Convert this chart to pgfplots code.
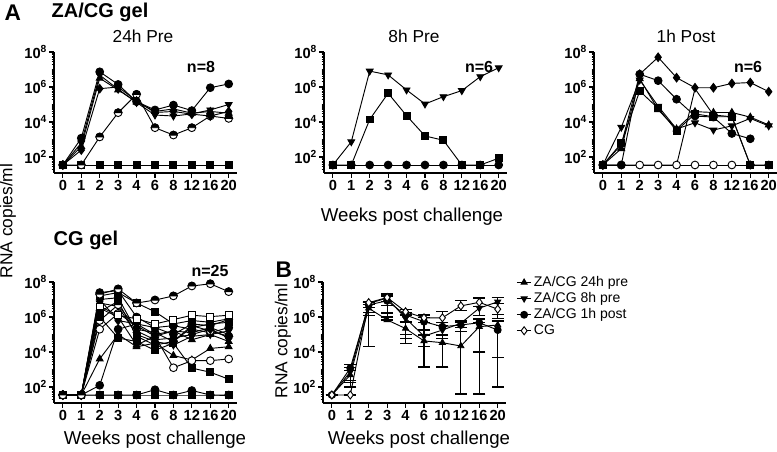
\documentclass[border=0pt]{standalone}
\usepackage{fontspec}
\setmainfont{Liberation Sans}
\usepackage{pgfplots}
\pgfplotsset{compat=1.18}
\usetikzlibrary{plotmarks}

% circle with the upper half black, lower half white
\pgfdeclareplotmark{tophalf}{%
  \pgfpathcircle{\pgfpointorigin}{\pgfplotmarksize}%
  \pgfsetfillcolor{white}\pgfusepathqfillstroke
  \pgfpathmoveto{\pgfqpoint{\pgfplotmarksize}{0pt}}%
  \pgfpatharc{0}{180}{\pgfplotmarksize}%
  \pgfpathclose
  \pgfsetfillcolor{black}\pgfusepathqfillstroke
}

% one px of the reference = 0.75pt
\pgfplotsset{
  every axis/.append style={
    scale only axis, width=137.25pt, height=90.75pt,
    anchor=south west,
    ymode=log, ymin=12.2, ymax=1e8,
    xmin=-0.48, xmax=9.45,
    axis lines=left, axis line style={-, line width=1.3pt},
    xtick={0,...,9},
    ytick={1e2,1e4,1e6,1e8},
    yticklabels={10\textsuperscript{2},10\textsuperscript{4},10\textsuperscript{6},10\textsuperscript{8}},
    minor ytick={2e1,3e1,4e1,5e1,6e1,7e1,8e1,9e1,
      2e2,3e2,4e2,5e2,6e2,7e2,8e2,9e2,1e3,2e3,3e3,4e3,5e3,6e3,7e3,8e3,9e3,
      2e4,3e4,4e4,5e4,6e4,7e4,8e4,9e4,1e5,2e5,3e5,4e5,5e5,6e5,7e5,8e5,9e5,
      2e6,3e6,4e6,5e6,6e6,7e6,8e6,9e6,1e7,2e7,3e7,4e7,5e7,6e7,7e7,8e7,9e7},
    tick align=outside,
    major tick length=3.5pt, minor tick length=1.8pt,
    tick style={black, line width=0.8pt},
    minor tick style={line width=0.5pt},
    tick label style={font=\fontsize{11}{12}\selectfont\bfseries},
    xticklabel style={inner sep=1pt, yshift=-1pt},
    yticklabel style={inner sep=1.5pt},
    clip=false,
  },
  error bars/eb/.style={error bar style={line width=0.9pt},
    error mark options={rotate=90, mark size=4.5pt, line width=0.9pt}},
}
\tikzset{
  pl/.style={black, line width=0.7pt, mark size=2.9pt},
  mktdown/.style={pl, mark=triangle*, mark options={rotate=180}},
  mktup/.style={pl, mark=triangle*},
  mkdot/.style={pl, mark=*},
  mkodot/.style={pl, mark=*, mark options={fill=white}},
  mksq/.style={pl, mark=square*, mark size=2.6pt},
  mkosq/.style={pl, mark=square*, mark size=2.6pt, mark options={fill=white}},
  mkdia/.style={pl, mark=diamond*, mark size=3.2pt},
  mkodia/.style={pl, mark=diamond*, mark size=3.2pt, mark options={fill=white}},
  mkhalf/.style={pl, mark=tophalf},
}

\begin{document}
\begin{tikzpicture}
\useasboundingbox (0,0) rectangle (582.75pt,-339pt);

% 24h Pre
\begin{axis}[at={(40.5pt,-129.75pt)}, xticklabels={0,1,2,3,4,6,8,12,16,20}]
\addplot[mksq] coordinates {(0,35)(1,35)(2,35)(3,35)(4,35)(5,35)(6,35)(7,35)(8,35)(9,35)};
\addplot[mkhalf] coordinates {(0,35)(1,35)(2,1400)(3,3.4e4)(4,3.8e5)(5,4.7e3)(6,1.8e3)(7,4.7e3)(8,2.2e4)(9,1.6e4)};
\addplot[mkdia] coordinates {(0,35)(1,250)(2,8e5)(3,1e6)(4,1.6e5)(5,3.5e4)(6,4e4)(7,2.8e4)(8,2.2e4)(9,4e4)};
\addplot[mktup] coordinates {(0,35)(1,400)(2,3.2e6)(3,6.8e5)(4,1.4e5)(5,4e4)(6,5.6e4)(7,3.2e4)(8,4e4)(9,3.2e4)};
\addplot[mktdown] coordinates {(0,35)(1,630)(2,4.8e6)(3,7.4e5)(4,1.3e5)(5,2.5e4)(6,2.2e4)(7,2.9e4)(8,4.9e4)(9,1e5)};
\addplot[mkdot] coordinates {(0,35)(1,1200)(2,7.4e6)(3,1.4e6)(4,1.45e5)(5,4.9e4)(6,9.3e4)(7,4.5e4)(8,9.1e5)(9,1.5e6)};
\end{axis}

% 8h Pre
\begin{axis}[at={(243pt,-129.75pt)}, xticklabels={0,1,2,3,4,6,8,12,16,20}]
\addplot[mkdot] coordinates {(0,35)(1,35)(2,35)(3,35)(4,35)(5,35)(6,35)(7,35)(8,35)(9,35)};
\addplot[mksq] coordinates {(0,35)(1,35)(2,1.4e4)(3,4.4e5)(4,2.3e4)(5,1.6e3)(6,900)(7,35)(8,35)(9,85)};
\addplot[mktdown] coordinates {(0,35)(1,740)(2,8.1e6)(3,4.9e6)(4,6.8e5)(5,1.07e5)(6,2.8e5)(7,6.2e5)(8,3.9e6)(9,1.26e7)};
\end{axis}

% 1h Post
\begin{axis}[at={(445.5pt,-129.75pt)}, xticklabels={0,1,2,3,4,6,8,12,16,20}]
\addplot[mkodot] coordinates {(0,35)(1,35)(2,35)(3,35)(4,35)(5,35)(6,35)(7,35)(8,35)(9,35)};
\addplot[pl] coordinates {(0,35)(1,35)(2,35)(3,35)(4,35)(5,8e5)(6,2.5e4)(7,2e4)(8,35)};
\addplot[mkdot, only marks] coordinates {(6,2.5e4)(7,2e4)(8,35)};
\addplot[mksq] coordinates {(0,35)(1,600)(2,5.9e5)(3,6e4)(4,3.2e3)(5,2.9e4)(6,2e4)(7,2e4)(8,35)(9,35)};
\addplot[mktdown] coordinates {(0,35)(1,5e3)(2,2.5e6)(3,8e4)(4,4e3)(5,9e3)(6,3.5e3)(7,6e3)(8,1.6e4)(9,6e3)};
\addplot[mktup] coordinates {(0,35)(1,300)(2,3e6)(3,5e4)(4,4e3)(5,3.9e4)(6,3.5e4)(7,3.5e4)(8,1.9e4)(9,6.8e3)};
\addplot[mkdot] coordinates {(0,35)(1,35)(2,5.4e6)(3,2.3e6)(4,2e5)(5,2.2e4)(6,1.9e4)(7,2.2e3)(8,1.1e3)};
\addplot[mkdia] coordinates {(0,35)(1,500)(2,5.4e6)(3,5e7)(4,3.4e6)(5,9.1e5)(6,9.1e5)(7,1.6e6)(8,1.8e6)(9,5.4e5)};
\end{axis}

% CG gel
\begin{axis}[at={(40.5pt,-302.25pt)}, xticklabels={0,1,2,3,4,6,8,12,16,20}]
\addplot[mksq] coordinates {(0,35)(1,35)(2,35)(3,35)(4,35)(5,35)(6,35)(7,35)(8,35)(9,35)};
\addplot[mkdot] coordinates {(0,35)(1,35)(2,35)(3,35)(4,35)(5,70)(6,35)(7,63)(8,35)(9,35)};
\addplot[mkdot] coordinates {(0,35)(1,35)(2,125)(3,2e5)(4,4e5)(5,2.5e5)(6,3.2e5)(7,2e5)(8,1.26e5)(9,2.5e5)};
\addplot[mktup] coordinates {(0,35)(1,35)(2,4e3)(3,1e5)(4,2e4)(5,3.2e4)(6,6.3e3)(7,3.5e3)(8,1.6e4)(9,2e4)};
\addplot[mkodot] coordinates {(0,35)(1,35)(2,2e5)(3,1.6e6)(4,3.2e5)(5,7.9e4)(6,1.26e3)(7,3.2e3)(8,3.2e3)(9,4e3)};
\addplot[mksq] coordinates {(0,35)(1,35)(2,1e6)(3,6.3e4)(4,4e4)(5,1.26e4)(6,3.2e4)(7,1.2e3)(8,700)(9,280)};
\addplot[mktdown] coordinates {(0,35)(1,35)(2,6.3e6)(3,4e6)(4,1e5)(5,4e4)(6,2.5e4)(7,7.9e4)(8,1e5)(9,1.6e5)};
\addplot[mktup] coordinates {(0,35)(1,35)(2,3.2e6)(3,1e6)(4,2.5e4)(5,7.9e4)(6,1.6e5)(7,5e4)(8,1e5)(9,4e4)};
\addplot[mkhalf] coordinates {(0,35)(1,35)(2,6.3e5)(3,5e6)(4,2e5)(5,1.26e5)(6,4e4)(7,3.2e5)(8,1.6e5)(9,7.9e4)};
\addplot[mkdia] coordinates {(0,35)(1,35)(2,1e7)(3,6.3e5)(4,4e5)(5,1e5)(6,1.6e5)(7,1.26e5)(8,2.5e5)(9,1e5)};
\addplot[mksq] coordinates {(0,35)(1,35)(2,2e6)(3,7.9e6)(4,7.9e4)(5,2.5e4)(6,4e4)(7,2.5e5)(8,4e5)(9,5e5)};
\addplot[mkdia] coordinates {(0,35)(1,35)(2,1e7)(3,1.26e7)(4,1.6e5)(5,5e4)(6,6.3e4)(7,1e5)(8,2e5)(9,6.3e4)};
\addplot[mkdot] coordinates {(0,35)(1,35)(2,2.5e7)(3,3.2e7)(4,1e6)(5,2.5e5)(6,1e5)(7,4e5)(8,3.2e5)(9,7.1e5)};
\addplot[mksq] coordinates {(0,35)(1,35)(2,1.6e7)(3,2.5e7)(4,6.3e6)(5,2e6)(6,4e5)(7,6.3e5)(8,5e5)(9,7.9e5)};
\addplot[mkosq] coordinates {(0,35)(1,35)(2,4e6)(3,1.26e6)(4,7.9e5)(5,4e5)(6,7.1e5)(7,1.26e6)(8,1.05e6)(9,1.26e6)};
\addplot[mkhalf] coordinates {(0,35)(1,35)(2,2e7)(3,4e7)(4,6.3e6)(5,9.3e6)(6,1.6e7)(7,5.9e7)(8,7.9e7)(9,2.8e7)};
\end{axis}

% B: group means
\begin{axis}[at={(242.25pt,-302.25pt)},
  xticklabels={0,1,2,3,4,6,10,12,16,20},
  legend style={draw=none, fill=none, at={(axis description cs:1.055,1.065)}, anchor=north west,
    font=\fontsize{10.5}{11}\selectfont, row sep=0pt, inner sep=0pt,
    nodes={inner sep=1.5pt}},
  legend image code/.code={\draw[mark repeat=2,mark phase=2] plot coordinates {(0pt,0pt)(5.5pt,0pt)(11pt,0pt)};},
  legend cell align=left]
\addplot[mktup, mark size=2.6pt, error bars/.cd, y dir=both, y explicit, eb] coordinates {
 (0,35) +- (0,0)
 (1,490) += (0,400) -= (0,300)
 (2,3.2e6) += (0,2e6) -= (0,2e6)
 (3,6.8e5) += (0,1e6) -= (0,0)
 (4,2.2e5) += (0,3e5) -= (0,1.6e5)
 (5,4.3e4) += (0,5e4) -= (0,4.16e4)
 (6,3.4e4) += (0,6e4) -= (0,3.27e4)
 (7,2.2e4) += (0,4.8e5) -= (0,2.196e4)
 (8,2.8e5) += (0,2e5) -= (0,2.7e5)
 (9,3.5e5) += (0,3e5) -= (0,3.449e5)
};
\addlegendentry{ZA/CG 24h pre}
\addplot[mktdown, mark size=2.6pt, error bars/.cd, y dir=both, y explicit, eb] coordinates {
 (0,35) +- (0,0)
 (1,740) += (0,600) -= (0,500)
 (2,6e6) += (0,1e6) -= (0,5.98e6)
 (3,1.2e7) += (0,1e7) -= (0,1.1e7)
 (4,8.5e5) += (0,5e5) -= (0,8.2e5)
 (5,8.1e4) += (0,1e5) -= (0,6e4)
 (6,1.8e5) += (0,1.5e5) -= (0,1.2e5)
 (7,4.4e5) += (0,2e5) -= (0,2e5)
 (8,3.2e6) += (0,8e6) -= (0,2e6)
 (9,7.4e6) += (0,5e6) -= (0,6e6)
};
\addlegendentry{ZA/CG 8h pre}
\addplot[mkdot, mark size=2.6pt, error bars/.cd, y dir=both, y explicit, eb] coordinates {
 (0,35) +- (0,0)
 (1,1.2e3) += (0,800) -= (0,1.1e3)
 (2,4.9e6) += (0,2e6) -= (0,3e6)
 (3,8.5e6) += (0,6e6) -= (0,4e6)
 (4,1.3e6) += (0,6e5) -= (0,1.2e6)
 (5,5.4e5) += (0,4e5) -= (0,5.386e5)
 (6,2.8e5) += (0,2e5) -= (0,2.786e5)
 (7,3.5e5) += (0,2e5) -= (0,2e5)
 (8,4.7e5) += (0,3e5) -= (0,4.6996e5)
 (9,1.8e5) += (0,4e5) -= (0,1.799e5)
};
\addlegendentry{ZA/CG 1h post}
\addplot[mkodia, mark size=3pt, error bars/.cd, y dir=both, y explicit, eb] coordinates {
 (0,35) +- (0,0)
 (1,35) +- (0,0)
 (2,6.6e6) += (0,1e6) -= (0,3e6)
 (3,1.3e7) += (0,5e6) -= (0,5e6)
 (4,2e6) += (0,6e5) -= (0,8e5)
 (5,9e5) += (0,4e5) -= (0,4e5)
 (6,9e5) += (0,1.1e6) -= (0,4e5)
 (7,4.3e6) += (0,4.7e6) -= (0,2e6)
 (8,6.9e6) += (0,6e6) -= (0,3e6)
 (9,2.8e6) += (0,3e6) -= (0,2e6)
};
\addlegendentry{CG}
\end{axis}

% texts, coordinates in px of the reference
\begin{scope}[x=0.75pt,y=-0.75pt]
\node[anchor=west, font=\fontsize{17}{18}\selectfont\bfseries] at (0,13) {A};
\node[anchor=west, font=\fontsize{15}{16}\selectfont\bfseries] at (47,12) {ZA/CG gel};
\node[font=\fontsize{13}{14}\selectfont] at (143,36) {24h Pre};
\node[font=\fontsize{13}{14}\selectfont] at (414,36) {8h Pre};
\node[font=\fontsize{13}{14}\selectfont] at (686,36) {1h Post};
\node[font=\fontsize{12}{13}\selectfont\bfseries] at (201,67) {n=8};
\node[font=\fontsize{12}{13}\selectfont\bfseries] at (479,67) {n=6};
\node[font=\fontsize{12}{13}\selectfont\bfseries] at (748,67) {n=6};
\node[font=\fontsize{14}{15}\selectfont] at (412,217) {Weeks post challenge};
\node[rotate=90, font=\fontsize{13}{14}\selectfont] at (8,221) {RNA copies/ml};
\node[anchor=west, font=\fontsize{15}{16}\selectfont\bfseries] at (49,240) {CG gel};
\node[font=\fontsize{12}{13}\selectfont\bfseries] at (210,271) {n=25};
\node[anchor=west, font=\fontsize{17}{18}\selectfont\bfseries] at (271,270) {B};
\node[rotate=90, font=\fontsize{13}{14}\selectfont] at (283,341) {RNA copies/ml};
\node[font=\fontsize{14}{15}\selectfont] at (155,440) {Weeks post challenge};
\node[font=\fontsize{14}{15}\selectfont] at (419,440) {Weeks post challenge};
\end{scope}
\end{tikzpicture}
\end{document}
